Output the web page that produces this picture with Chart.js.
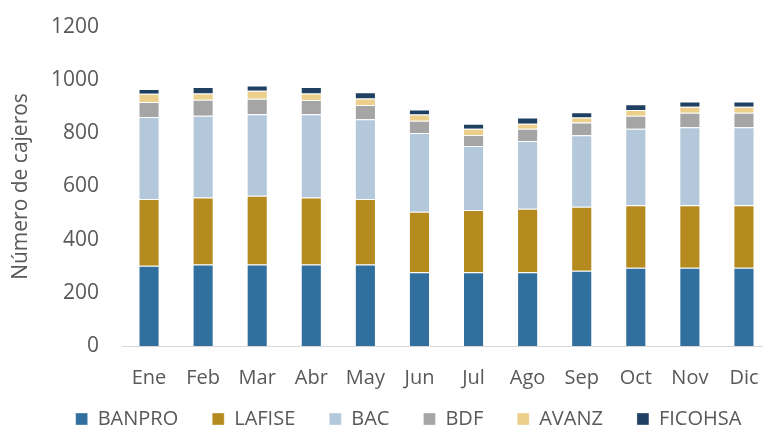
<!DOCTYPE html>
<html>
<head>
<meta charset="utf-8">
<script src="https://cdn.jsdelivr.net/npm/chart.js@4"></script>
<style>
  html, body { margin: 0; padding: 0; background: #fff; overflow: hidden; }
  #wrap { width: 763px; height: 427px; overflow: hidden; }
</style>
</head>
<body>
<!-- plot runs a few px past the right edge like the original export -->
<div id="wrap"><canvas id="cajerosChart" width="771" height="427"></canvas></div>
<script>
const months = ['Ene', 'Feb', 'Mar', 'Abr', 'May', 'Jun', 'Jul', 'Ago', 'Sep', 'Oct', 'Nov', 'Dic'];
const banpro  = [302, 307, 307, 307, 307, 277, 277, 277, 283, 294, 294, 294];
const lafise  = [251, 252, 258, 252, 246, 228, 235, 239, 241, 235, 235, 235];
const bac     = [308, 307, 307, 313, 300, 296, 240, 255, 269, 288, 294, 294];
const bdf     = [57, 60, 58, 53, 54, 46, 42, 46, 48, 49, 54, 54];
const avanz   = [31, 24, 30, 25, 24, 24, 23, 19, 19, 22, 23, 23];
const ficohsa = [18, 24, 20, 24, 24, 19, 19, 24, 19, 21, 20, 20];
const yTicks  = [0, 200, 400, 600, 800, 1000, 1200];

// nudge the legend into place (Excel puts it a bit lower / right)
const legendShift = {
    id: 'legendShift',
    afterLayout: function (chart) {
        const lg = chart.legend;
        if (!lg) return;
        lg.top -= 17;
        lg.bottom = chart.height;
        lg.left += 23; lg.right += 23;
    }
};

document.addEventListener("DOMContentLoaded", function () {
    const ctx = document.getElementById('cajerosChart');
    const txt = '#595959';
    const font = "'Open Sans', sans-serif";

    function ds(label, data, color) {
        return {
            label: label,
            data: data,
            backgroundColor: color,
            borderColor: 'rgba(255,255,255,0.35)',
            borderWidth: 1,
            barPercentage: 0.39,
            categoryPercentage: 1.0
        };
    }

    new Chart(ctx, {
        type: 'bar',
        data: {
            labels: months,
            datasets: [
                ds('BANPRO', banpro, '#31709E'),
                ds('LAFISE', lafise, '#B58B1F'),
                ds('BAC', bac, '#B3C8DA'),
                ds('BDF', bdf, '#A5A5A5'),
                ds('AVANZ', avanz, '#ECCF8A'),
                ds('FICOHSA', ficohsa, '#1F4060')
            ]
        },
        plugins: [legendShift],
        options: {
            responsive: false,
            animation: false,
            layout: { padding: { top: 27, right: 0, bottom: 0, left: 0 } },
            plugins: {
                tooltip: { enabled: false },
                legend: {
                    position: 'bottom',
                    maxHeight: 35,
                    labels: {
                        color: txt,
                        font: { family: font, size: 20 },
                        boxWidth: 12,
                        boxHeight: 12,
                        padding: 34
                    }
                }
            },
            scales: {
                x: {
                    stacked: true,
                    grid: { display: false, drawTicks: false },
                    border: { color: '#D9D9D9', width: 1 },
                    afterFit: function (scale) {
                        scale.height = 46;
                        scale.paddingLeft = 0;
                        scale.paddingRight = 0;
                    },
                    ticks: { color: txt, font: { family: font, size: 20 }, padding: 20 }
                },
                y: {
                    stacked: true,
                    min: 0,
                    max: 1200,
                    afterBuildTicks: function (scale) {
                        scale.ticks = yTicks.map(v => ({ value: v }));
                    },
                    afterFit: function (scale) {
                        scale.width = 122;
                        scale.paddingTop = 0;
                        scale.paddingBottom = 0;
                    },
                    grid: { display: false, drawTicks: false },
                    border: { display: false },
                    ticks: {
                        color: txt,
                        font: { family: font, size: 21 },
                        padding: 23,
                        callback: function (v) { return String(v); }
                    },
                    title: {
                        display: true,
                        text: 'Número de cajeros',
                        color: txt,
                        font: { family: font, size: 21 },
                        padding: { top: 8, bottom: 0 }
                    }
                }
            }
        }
    });
});
</script>
</body>
</html>
